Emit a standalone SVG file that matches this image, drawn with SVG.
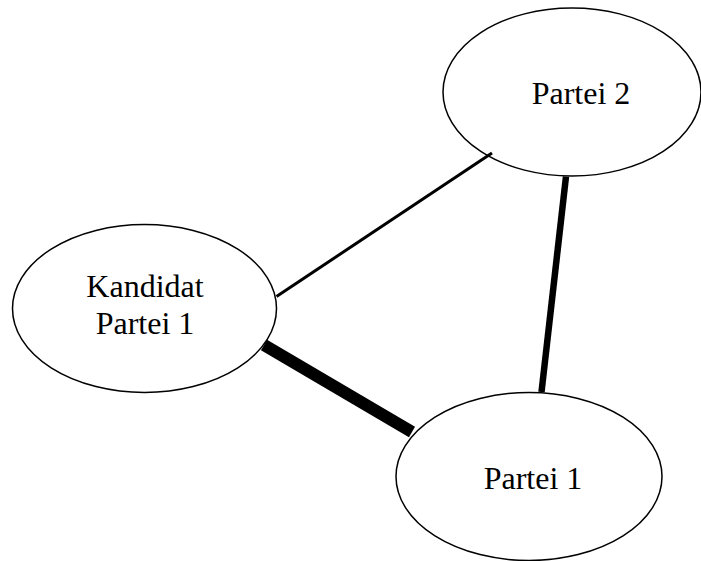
<svg xmlns="http://www.w3.org/2000/svg" width="701" height="561" viewBox="0 0 701 561">
<style>
.node ellipse{fill:#fff;stroke:#000;stroke-width:1.5}
.node text{font-family:"Liberation Serif","Times New Roman",serif;font-size:32px;fill:#000;text-anchor:middle}
.edge{stroke:#000;stroke-linecap:butt;fill:none}
</style>
<rect width="701" height="561" fill="#fff"/>
<g id="partei2" class="node">
<ellipse cx="572" cy="92" rx="129" ry="84"/>
<text x="581" y="104">Partei 2</text>
</g>
<g id="kandidat" class="node">
<ellipse cx="144.5" cy="308.5" rx="132" ry="84"/>
<text x="145" y="297">Kandidat</text>
<text x="145" y="334">Partei 1</text>
</g>
<g id="partei1" class="node">
<ellipse cx="529" cy="476.5" rx="133" ry="84"/>
<text x="533" y="489">Partei 1</text>
</g>
<g id="connectors">
<line class="edge" x1="276.5" y1="296.5" x2="492" y2="153" stroke-width="3"/>
<line class="edge" x1="566" y1="176.5" x2="541.5" y2="392" stroke-width="6.5"/>
<line class="edge" x1="264" y1="345" x2="412" y2="432" stroke-width="12"/>
</g>
</svg>
